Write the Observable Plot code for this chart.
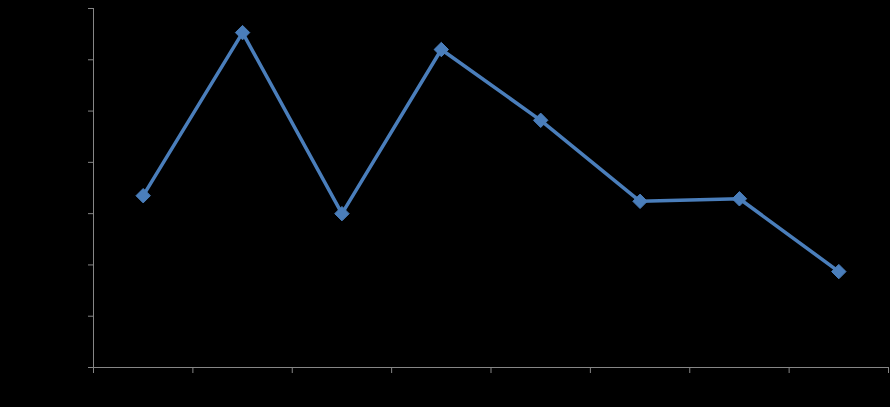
<!DOCTYPE html>
<html>
<head>
<meta charset="utf-8">
<script src="https://cdn.jsdelivr.net/npm/d3@7"></script>
<script src="https://cdn.jsdelivr.net/npm/@observablehq/plot@0.6"></script>
<style>
  html, body { margin: 0; padding: 0; background: #000; }
  #chart svg { display: block; }
</style>
</head>
<body>
<div id="chart"></div>
<script>
const categories = ["1", "2", "3", "4", "5", "6", "7", "8"];
const values = [3.35, 6.53, 3.0, 6.2, 4.82, 3.24, 3.29, 1.87];
const yTicks = [0, 1, 2, 3, 4, 5, 6, 7];
const xBoundaries = [0, 1, 2, 3, 4, 5, 6, 7, 8];

const data = categories.map((c, i) => ({cat: c, pos: i + 0.5, value: values[i]}));
const axisColor = "#868686";
const lineColor = "#4a7ebb";

const chart = Plot.plot({
  width: 890,
  height: 407,
  marginLeft: 93,
  marginRight: 2,
  marginTop: 8,
  marginBottom: 40,
  style: {background: "#000", color: axisColor},
  x: {domain: [0, categories.length], axis: null, label: null},
  y: {domain: [0, 7], axis: null, label: null},
  marks: [
    Plot.axisY(yTicks, {tickSize: 5, tickFormat: () => "", label: null, stroke: axisColor, strokeWidth: 1}),
    Plot.axisX(xBoundaries, {tickSize: 6, tickFormat: () => "", label: null, stroke: axisColor, strokeWidth: 1}),
    Plot.ruleX([0], {stroke: axisColor, strokeWidth: 1, insetBottom: -6}),
    Plot.ruleY([0], {stroke: axisColor, strokeWidth: 1, insetLeft: -5}),
    Plot.line(data, {x: "pos", y: "value", stroke: lineColor, strokeWidth: 3.5, strokeLinejoin: "round"}),
    Plot.dot(data, {x: "pos", y: "value", symbol: "diamond2", r: 6.5, fill: lineColor, stroke: lineColor, strokeWidth: 1})
  ]
});
document.getElementById("chart").appendChild(chart);
</script>
</body>
</html>
